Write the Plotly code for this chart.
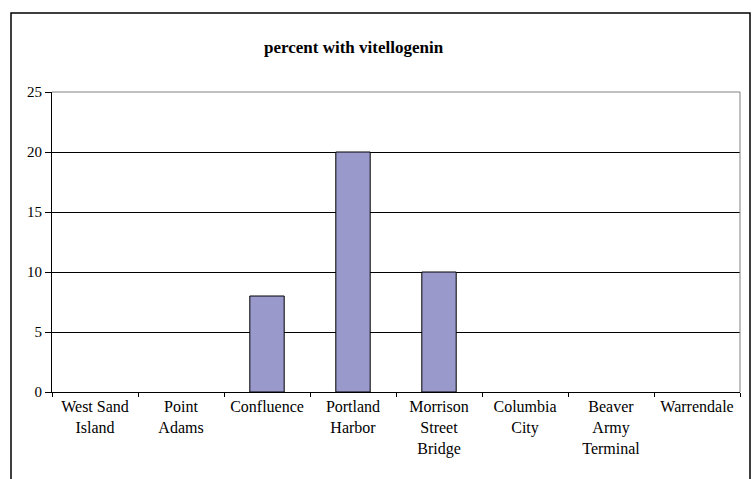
import plotly.graph_objects as go

categories = ["West Sand<br>Island", "Point<br>Adams", "Confluence", "Portland<br>Harbor",
              "Morrison<br>Street<br>Bridge", "Columbia<br>City", "Beaver<br>Army<br>Terminal", "Warrendale"]
percent_vtg = [0, 0, 8, 20, 10, 0, 0, 0]
y_ticks = [0, 5, 10, 15, 20, 25]

W, H = 755, 479
L, R, T, B = 52, 740, 92, 392
pw, ph = R - L, B - T
SERIF = "Liberation Serif"

fig = go.Figure()
fig.add_trace(go.Bar(
    x=categories, y=percent_vtg,
    marker=dict(color="#9999CC",
                line=dict(color="black", width=[1 if v > 0 else 0 for v in percent_vtg])),
))

def px(x):
    return (x - L) / pw

def py(y):
    return (B - y) / ph

fig.update_layout(
    width=W, height=H,
    margin=dict(l=L, r=W - R, t=T, b=H - B, pad=0),
    paper_bgcolor="white", plot_bgcolor="white",
    bargap=0.6,
    showlegend=False,
    font=dict(family=SERIF, color="black"),
    xaxis=dict(
        type="category",
        tickson="boundaries",
        ticks="outside", ticklen=4, tickcolor="black", tickwidth=1,
        showline=True, linecolor="black", linewidth=1,
        showgrid=False,
        tickfont=dict(size=16, family=SERIF, color="black"),
        tickangle=0,
    ),
    yaxis=dict(
        range=[0, 25],
        tickvals=y_ticks,
        ticks="outside", ticklen=6, tickcolor="black", tickwidth=1,
        showline=True, linecolor="black", linewidth=1,
        showgrid=True, gridcolor="black", gridwidth=1,
        zeroline=False,
        tickfont=dict(size=15, family=SERIF, color="black"),
    ),
    annotations=[dict(
        text="<b>percent with vitellogenin</b>",
        x=px(354), y=py(47.5), xref="paper", yref="paper",
        xanchor="center", yanchor="middle", showarrow=False,
        font=dict(size=17, family=SERIF, color="black"),
    )],
    shapes=[
        dict(type="line", xref="paper", yref="paper", x0=0, x1=1, y0=1, y1=1,
             line=dict(color="#808080", width=1)),
        dict(type="line", xref="paper", yref="paper", x0=1, x1=1, y0=0, y1=1,
             line=dict(color="#808080", width=1)),
        dict(type="rect", xref="paper", yref="paper",
             x0=px(11), x1=px(750), y0=py(490), y1=py(13),
             line=dict(color="black", width=1.5), fillcolor="rgba(0,0,0,0)", layer="above"),
    ],
)

fig.write_html("out.html",
               config={"displayModeBar": False},
               post_script="document.body.style.margin='0';document.body.style.overflow='hidden';")
